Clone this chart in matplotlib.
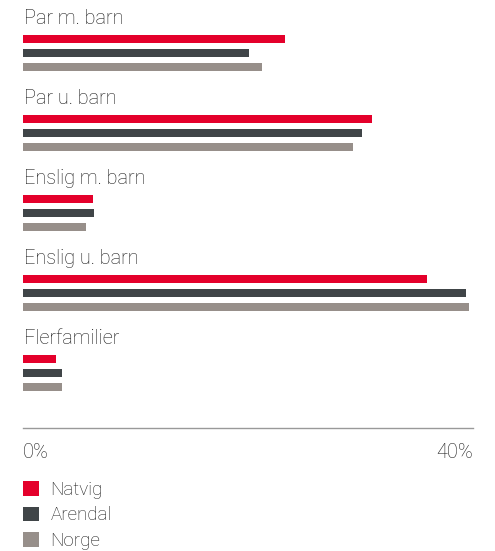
import matplotlib
matplotlib.use("Agg")
import matplotlib.pyplot as plt
import numpy as np

categories = ["Par m. barn", "Par u. barn", "Enslig m. barn", "Enslig u. barn", "Flerfamilier"]
series_names = ["Natvig", "Arendal", "Norge"]
natvig = [23.3, 31.0, 6.2, 35.9, 2.9]
arendal = [20.1, 30.1, 6.3, 39.4, 3.5]
norge = [21.2, 29.3, 5.6, 39.6, 3.5]
colors = ["#E4002B", "#404548", "#978F8A"]
tick_values = [0, 40]
tick_labels = ["0%", "40%"]

plt.rcParams['font.family'] = ['Roboto', 'DejaVu Sans']

W, H = 495, 551
fig = plt.figure(figsize=(W / 100, H / 100), dpi=100)
ax = fig.add_axes([23 / W, 1 - 428 / H, 450 / W, 428 / H])

pitch = 80.0
bar_h = 8 / pitch
step = 14 / pitch
first = 39 / pitch
idx = np.arange(len(categories))
handles = []
for j, (vals, col, name) in enumerate(zip([natvig, arendal, norge], colors, series_names)):
    b = ax.barh(idx + first + j * step, vals, height=bar_h, color=col, label=name)
    handles.append(b)

for i, cat in enumerate(categories):
    ax.text(0.1, i + 24 / pitch, cat, fontsize=14.3, fontweight='light', color='#1a1a1a',
            va='baseline', ha='left')

ax.set_xlim(0, 40)
ax.set_ylim(428 / pitch, 0)
for s in ['top', 'right', 'left']:
    ax.spines[s].set_visible(False)
ax.spines['bottom'].set_color('#999999')
ax.spines['bottom'].set_linewidth(1.0)
ax.set_yticks([])
ax.set_xticks(tick_values)
ax.set_xticklabels(tick_labels, fontsize=14.3, fontweight='light', color='#1a1a1a')
ax.tick_params(axis='x', length=0, pad=11)
labs = ax.get_xticklabels()
labs[0].set_ha('left')
labs[-1].set_ha('right')

leg = ax.legend(handles=handles, loc='upper left', bbox_to_anchor=(23 / W, 1 - 481 / H),
                bbox_transform=fig.transFigure, frameon=False, fontsize=13.5,
                handlelength=0.85, handleheight=0.85, handletextpad=0.62,
                labelspacing=0.4, borderpad=0, borderaxespad=0)
for t in leg.get_texts():
    t.set_color('#1a1a1a')
    t.set_fontweight('light')

fig.savefig("out.png", dpi=100)
